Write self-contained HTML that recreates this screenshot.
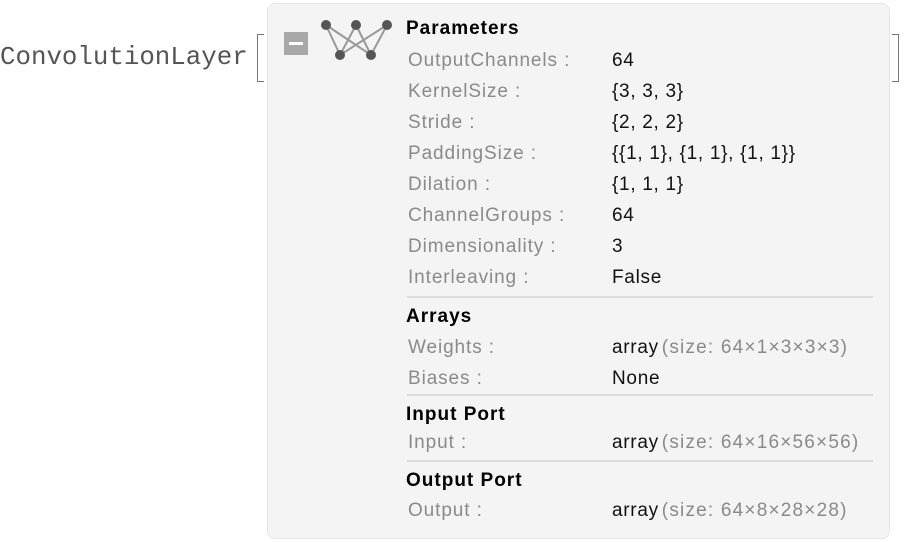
<!DOCTYPE html>
<html><head><style>
body{margin:0;width:906px;height:542px;background:#fff;position:relative;overflow:hidden;font-family:"Liberation Sans",sans-serif}
.t{position:absolute;white-space:nowrap;line-height:20px;font-size:19px;margin-top:2px}
.l{left:408px;color:#8a8a8a;letter-spacing:0.9px}
.v{left:612px;color:#111;letter-spacing:0.7px}
.h{left:406px;font-weight:bold;color:#000;letter-spacing:1px}
.g{color:#8a8a8a;margin-left:3px;letter-spacing:1.2px}
.sep{position:absolute;left:407px;width:466px;height:2px;background:#dcdcdc}
</style></head><body>
<div class="t" style="left:0;top:44px;font-family:'Liberation Mono',monospace;font-size:25.8px;line-height:28px;color:#555;margin-top:0">ConvolutionLayer</div>
<div style="position:absolute;left:257px;top:34px;width:6px;height:46px;border:1.5px solid #777;border-right:none"></div>
<div style="position:absolute;left:892px;top:34px;width:6px;height:46px;border:1.5px solid #777;border-left:none"></div>
<div style="position:absolute;left:267px;top:3px;width:621px;height:534px;background:#f4f4f4;border:1px solid #e6e6e6;border-radius:8px"></div>
<div style="position:absolute;left:284px;top:32px;width:24px;height:23px;background:#a8a8a8"><div style="position:absolute;left:5px;top:10px;width:14px;height:3px;background:#fff"></div></div>
<svg style="position:absolute;left:315px;top:15px" width="80" height="50">
<g stroke="#999" stroke-width="2"><line x1="11" y1="10" x2="25" y2="40"/><line x1="11" y1="10" x2="56" y2="40"/><line x1="41" y1="10" x2="25" y2="40"/><line x1="41" y1="10" x2="56" y2="40"/><line x1="72" y1="10" x2="25" y2="40"/><line x1="72" y1="10" x2="56" y2="40"/></g>
<g fill="#555"><circle cx="11" cy="10" r="5"/><circle cx="41" cy="10" r="5"/><circle cx="72" cy="10" r="5"/><circle cx="25" cy="40" r="5"/><circle cx="56" cy="40" r="5"/></g></svg>
<div class="t h" style="top:17px">Parameters</div>
<div class="t l" style="top:49px">OutputChannels :</div><div class="t v" style="top:49px">64</div>
<div class="t l" style="top:80px">KernelSize :</div><div class="t v" style="top:80px">{3, 3, 3}</div>
<div class="t l" style="top:111px">Stride :</div><div class="t v" style="top:111px">{2, 2, 2}</div>
<div class="t l" style="top:142px">PaddingSize :</div><div class="t v" style="top:142px">{{1, 1}, {1, 1}, {1, 1}}</div>
<div class="t l" style="top:173px">Dilation :</div><div class="t v" style="top:173px">{1, 1, 1}</div>
<div class="t l" style="top:204px">ChannelGroups :</div><div class="t v" style="top:204px">64</div>
<div class="t l" style="top:235px">Dimensionality :</div><div class="t v" style="top:235px">3</div>
<div class="t l" style="top:266px">Interleaving :</div><div class="t v" style="top:266px">False</div>
<div class="sep" style="top:296px"></div>
<div class="t h" style="top:305px">Arrays</div>
<div class="t l" style="top:336px">Weights :</div><div class="t v" style="top:336px">array<span class="g">(size: 64×1×3×3×3)</span></div>
<div class="t l" style="top:367px">Biases :</div><div class="t v" style="top:367px">None</div>
<div class="sep" style="top:394px"></div>
<div class="t h" style="top:403px">Input Port</div>
<div class="t l" style="top:431px">Input :</div><div class="t v" style="top:431px">array<span class="g">(size: 64×16×56×56)</span></div>
<div class="sep" style="top:460px"></div>
<div class="t h" style="top:469px">Output Port</div>
<div class="t l" style="top:499px">Output :</div><div class="t v" style="top:499px">array<span class="g">(size: 64×8×28×28)</span></div>
</body></html>
